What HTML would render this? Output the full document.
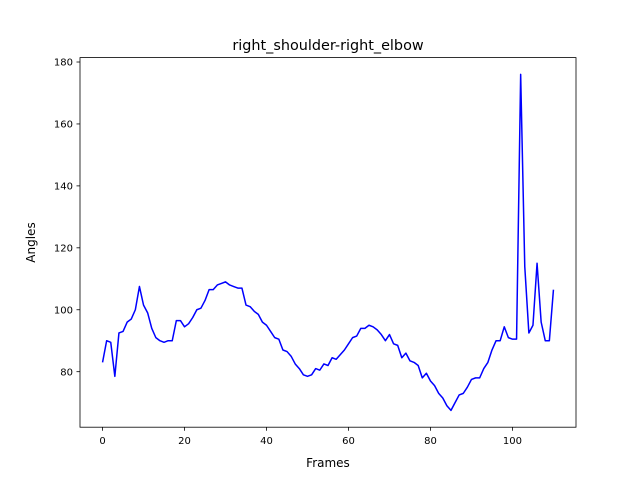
<!DOCTYPE html>
<html><head><meta charset="utf-8"><style>
body{margin:0;background:#fff}
svg text{font-family:"DejaVu Sans","Liberation Sans",sans-serif;fill:#000}
</style></head><body>
<svg id="chart" width="640" height="480">
<rect width="640" height="480" fill="#fff"/>
<text x="328" y="50" font-size="14.4" text-anchor="middle">right_shoulder-right_elbow</text>
<text x="328" y="467" font-size="12" text-anchor="middle">Frames</text>
<text transform="translate(35,242.5) rotate(-90)" font-size="12" text-anchor="middle">Angles</text>
<g id="ticks"></g>
<path id="line" fill="none" stroke="#0000ff" stroke-width="1.5" stroke-linejoin="round"/>
<rect x="80" y="57.6" width="496" height="369.6" fill="none" stroke="#000" stroke-width="0.8"/>
</svg>
<script>
const angles=[83,90,89.5,78.5,92.5,93,96,97,100,107.5,101.5,99,94,91,90,89.5,90,90,96.5,96.5,94.5,95.5,97.5,100,100.5,103,106.5,106.5,108,108.5,109,108,107.5,107,107,101.5,101,99.5,98.5,96,95,93,91,90.5,87,86.5,85,82.5,81,79,78.5,79,81,80.5,82.5,82,84.5,84,85.5,87,89,91,91.5,94,94,95,94.5,93.5,92,90,92,89,88.5,84.5,86,83.5,83,82,78,79.5,77,75.5,73,71.5,69,67.5,70,72.5,73,75,77.5,78,78,81,83,87,90,90,94.5,91,90.5,90.5,176,114,92.5,95,115,96,90,90,106.5];
const xTicks=[0,20,40,60,80,100];
const yTicks=[80,100,120,140,160,180];
const L=80,R=576,T=57.6,B=427.2;
const n=angles.length-1;
const xmin=-0.05*n,xmax=n*1.05;
const mn=Math.min(...angles),mx=Math.max(...angles),pad=(mx-mn)*0.05;
const ymin=mn-pad,ymax=mx+pad;
const sx=v=>L+(v-xmin)/(xmax-xmin)*(R-L);
const sy=v=>B-(v-ymin)/(ymax-ymin)*(B-T);
const ns="http://www.w3.org/2000/svg";
document.getElementById('line').setAttribute('d',angles.map((v,i)=>(i?'L':'M')+sx(i).toFixed(2)+','+sy(v).toFixed(2)).join(''));
const g=document.getElementById('ticks');
xTicks.forEach(t=>{
 const l=document.createElementNS(ns,'line');
 l.setAttribute('x1',sx(t));l.setAttribute('x2',sx(t));l.setAttribute('y1',B);l.setAttribute('y2',B+3.5);l.setAttribute('stroke','#000');l.setAttribute('stroke-width','0.8');
 
 
 g.appendChild(l);
 const tx=document.createElementNS(ns,'text');
 tx.setAttribute('x',sx(t));tx.setAttribute('y',B+17);tx.setAttribute('font-size','10');tx.setAttribute('text-anchor','middle');tx.textContent=t;
 
 
 g.appendChild(tx);
});
yTicks.forEach(t=>{
 const l=document.createElementNS(ns,'line');
 l.setAttribute('x1',L-3.5);l.setAttribute('x2',L);l.setAttribute('y1',sy(t));l.setAttribute('y2',sy(t));l.setAttribute('stroke','#000');l.setAttribute('stroke-width','0.8');
 
 
 g.appendChild(l);
 const tx=document.createElementNS(ns,'text');
 tx.setAttribute('x',L-7);tx.setAttribute('y',sy(t)+3.6);tx.setAttribute('font-size','10');tx.setAttribute('text-anchor','end');tx.textContent=t;
 
 
 g.appendChild(tx);
});
</script>
</body></html>
